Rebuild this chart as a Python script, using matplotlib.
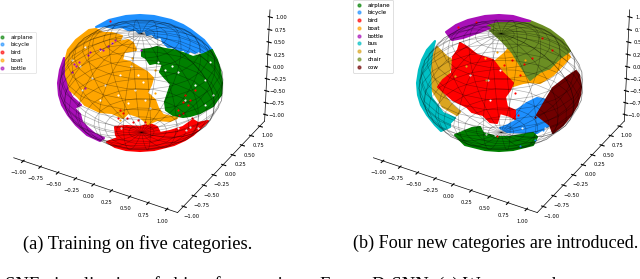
import numpy as np
import matplotlib
matplotlib.use('Agg')
import matplotlib.pyplot as plt
from matplotlib.patches import Polygon
from matplotlib.lines import Line2D

W, H = 640, 279

# category colours
colors = {'airplane': '#008000', 'bicycle': '#1e90ff', 'bird': '#ff0000', 'boat': '#ffa500',
          'bottle': '#a810b8', 'bus': '#00bfc4', 'cat': '#daa520', 'chair': '#6b8e23', 'cow': '#700000',
          'white': '#ffffff'}
names_a = ['airplane', 'bicycle', 'bird', 'boat', 'bottle']
names_b = names_a + ['bus', 'cat', 'chair', 'cow']
ticks = [-1.0, -0.75, -0.5, -0.25, 0.0, 0.25, 0.5, 0.75, 1.0]

# regions, in pixels
blue_a = [(96,27),(109,20),(126,16),(140,15),(154,16),(171,20),(183,25),(191,30),(204,40),(212,50),(205,55),(199,51),(195,53),(190,51),(187,54),(184,50),(178,50),(172,47),(168,47),(163,42),(161,37),(156,38),(152,34),(147,35),(145,30),(139,33),(136,30),(128,30),(122,27),(113,28),(104,26)]
green_a = [(142,50),(150,49),(157,47),(165,49),(173,50),(183,53),(193,57),(204,54),(212,50),(217,60),(220,70),(222,83),(221,95),(217,100),(213,106),(200,113),(190,116),(183,117),(173,115),(166,110),(165,102),(168,93),(171,84),(165,78),(160,72),(163,64),(155,63),(150,64),(146,58),(142,56)]
orange_a = [(66,58),(68,50),(76,40),(89,30),(96,29),(103,33),(112,33),(122,36),(119,42),(128,40),(133,43),(136,50),(124,52),(122,60),(130,62),(140,68),(147,72),(153,78),(151,85),(147,93),(155,100),(158,108),(163,115),(177,118),(170,121),(157,120),(148,124),(140,117),(128,113),(123,118),(112,113),(100,112),(85,105),(78,97),(70,90),(66,75)]
purple_a = [(64,58),(60,70),(58,83),(59,95),(62,105),(68,115),(76,125),(87,135),(100,141),(104,138),(95,134),(88,128),(82,122),(80,114),(74,108),(81,105),(72,97),(68,88),(67,72),(68,60)]
red_a = [(107,142),(115,147),(126,150),(140,151),(154,150),(174,145),(185,140),(193,135),(204,125),(208,121),(198,123),(193,120),(183,127),(170,131),(160,133),(157,127),(150,124),(140,127),(127,126),(115,127),(116,135),(118,138)]
regions_a = [('bicycle', blue_a), ('airplane', green_a), ('bird', red_a), ('bottle', purple_a), ('boat', orange_a)]

purple_b = [(446,32),(456,25),(468,20),(485,16),(499,15),(513,16),(530,21),(497,21),(483,25),(490,28),(480,32),(463,38),(452,40),(449,36)]
olive_b = [(482,24),(500,19),(530,21),(542,26),(550,30),(563,40),(570,51),(560,58),(550,68),(540,72),(530,80),(522,68),(512,52),(503,42),(490,30)]
orange_b = [(493,63),(505,53),(513,43),(522,60),(530,80),(550,68),(567,52),(570,57),(563,65),(553,75),(540,83),(530,82),(523,83),(510,87),(500,83)]
gold_b = [(437,47),(447,57),(452,60),(448,77),(440,90),(450,103),(460,112),(457,115),(443,107),(431,88),(430,63)]
cyan_b = [(435,41),(427,50),(422,60),(419,70),(417,83),(418,95),(421,105),(427,115),(435,125),(441,131),(450,127),(450,123),(455,118),(443,113),(431,97),(430,70),(432,53)]
red_b = [(460,43),(458,50),(453,57),(452,73),(443,80),(438,87),(453,100),(467,107),(472,112),(483,115),(490,122),(497,123),(500,113),(510,116),(517,120),(518,112),(507,107),(505,97),(510,90),(513,83),(502,72),(493,60),(477,55),(467,47)]
blue_b = [(537,98),(527,103),(517,110),(517,120),(508,125),(500,128),(507,132),(537,133),(553,123),(542,118),(537,113),(547,100)]
maroon_b = [(576,71),(579,75),(581,87),(580,95),(577,105),(571,115),(563,125),(553,133),(550,125),(537,115),(547,98),(553,88),(567,77)]
green_b = [(455,135),(465,131),(472,128),(480,127),(483,133),(497,137),(510,137),(533,133),(537,137),(533,145),(513,150),(499,151),(485,150),(465,145)]
regions_b = [('boat', orange_b), ('chair', olive_b), ('bottle', purple_b), ('cat', gold_b), ('bus', cyan_b),
             ('bird', red_b), ('bicycle', blue_b), ('cow', maroon_b), ('airplane', green_b)]

# stray points and holes, drawn over the regions
specks_a = {
    'white': [(72,60),(80,66),(85,47),(100,50),(112,43),(125,57),(131,66),(138,75),(143,82),(135,90),(145,100),(120,75),(105,85),(118,95),(128,103),(150,108),(92,78),(82,90),(100,100),
              (160,84),(158,62),(165,70),(210,62),(205,80),(185,100),(195,85),(172,66),(178,72),(213,95),(205,105),(170,125),(178,128),(186,130),(165,128),(121,128),(198,128),(190,127)],
    'bottle': [(115,40),(112,43),(108,46),(103,50),(100,49),(90,52),(88,55),(79,62),(76,66),(72,72),(85,88),(74,64),(141,50)],
    'bird': [(120,110),(123,113),(127,118),(118,118),(133,122),(138,120),(145,122),(185,95),(190,100),(195,90),(183,102),(188,105),(178,110),(183,113),(192,118),(179,115),(110,21)],
    'boat': [(140,72),(146,78),(155,70),(150,95),(155,93),(132,58),(127,47),(120,120)],
}
specks_b = {
    'white': [(500,70),(488,80),(490,100),(470,75),(510,100),(545,128),(486,134),(495,135),(522,128)],
    'bird': [(542,38),(552,50),(532,58),(524,64),(504,65),(458,27),(476,22),(520,75),(515,93),(518,115),(497,136),(512,60)],
    'cat': [(455,76),(486,80),(459,111),(466,66)],
    'boat': [(497,52),(503,58),(485,58),(525,60)],
    'bicycle': [(543,130),(520,146),(535,140)],
    'cow': [(550,110),(535,117)],
}


def draw_panel(bg, regions, specks, names, rect, legend_xy):
    for name, pts in regions:
        bg.add_patch(Polygon(pts, closed=True, fc=colors[name], ec=colors[name], lw=1.5, joinstyle='round'))
    for name, pts in specks.items():
        px = [p[0] for p in pts]
        py = [p[1] for p in pts]
        bg.scatter(px, py, s=2.5, color=colors[name], linewidths=0)
    handles = [Line2D([], [], ls='', marker='o', ms=2.0, color=colors[n], alpha=0.6, label=n) for n in names]
    leg = bg.legend(handles=handles, loc='upper left', bbox_to_anchor=legend_xy, bbox_transform=bg.transData,
                    fontsize=4, labelspacing=0.5, borderpad=0.5, handlelength=1.3, handletextpad=0.9, framealpha=0.8)
    leg.get_frame().set_linewidth(0.4)
    bg.add_artist(leg)

    # 3d box with the wire sphere on top of the regions
    ax = fig.add_axes(rect, projection='3d', facecolor='none')
    lon = np.linspace(0, 2 * np.pi, 21)
    lat = np.linspace(0, np.pi, 21)
    xs = np.outer(np.cos(lon), np.sin(lat))
    ys = np.outer(np.sin(lon), np.sin(lat))
    zs = np.outer(np.ones_like(lon), np.cos(lat))
    ax.plot_wireframe(xs, ys, zs, color='k', lw=0.5, alpha=0.3)
    ax.set_xlim(-1.14, 1.14)
    ax.set_ylim(-1.14, 1.14)
    ax.set_zlim(-1.14, 1.14)
    ax.set_box_aspect((4, 4, 2.8))
    ax.view_init(elev=31, azim=-60)
    ax.grid(False)
    for axis in (ax.xaxis, ax.yaxis, ax.zaxis):
        axis.set_pane_color((1, 1, 1, 0))
        axis.line.set_linewidth(0.5)
        axis.set_ticks(ticks)
        axis.set_major_formatter('{x:.2f}')
        axis.set_tick_params(labelsize=3.8, pad=-3, width=0.4)


fig = plt.figure(figsize=(W / 100, H / 100), dpi=100)
bg = fig.add_axes([0, 0, 1, 1])
bg.set_xlim(0, W)
bg.set_ylim(H, 0)
bg.axis('off')

draw_panel(bg, regions_a, specks_a, names_a, [-0.04, 0.17, 0.51, 1.03], (-7, 29))
draw_panel(bg, regions_b, specks_b, names_b, [0.522, 0.17, 0.51, 1.03], (350, -3))

serif = 'Liberation Serif'
bg.text(138, 244, '(a) Training on five categories.', ha='center', va='center', family=serif, fontsize=13.3)
bg.text(495.5, 243, '(b) Four new categories are introduced.', ha='center', va='center', family=serif, fontsize=13.05)
bg.text(-6, 276.5, 't-SNE visualization of object features in', va='top', family=serif, fontsize=13.3)
bg.text(320, 276.5, 'Fewer-D-SNN. (a) We extract the', va='top', family=serif, fontsize=13.3)

fig.savefig('out.png', dpi=100)
